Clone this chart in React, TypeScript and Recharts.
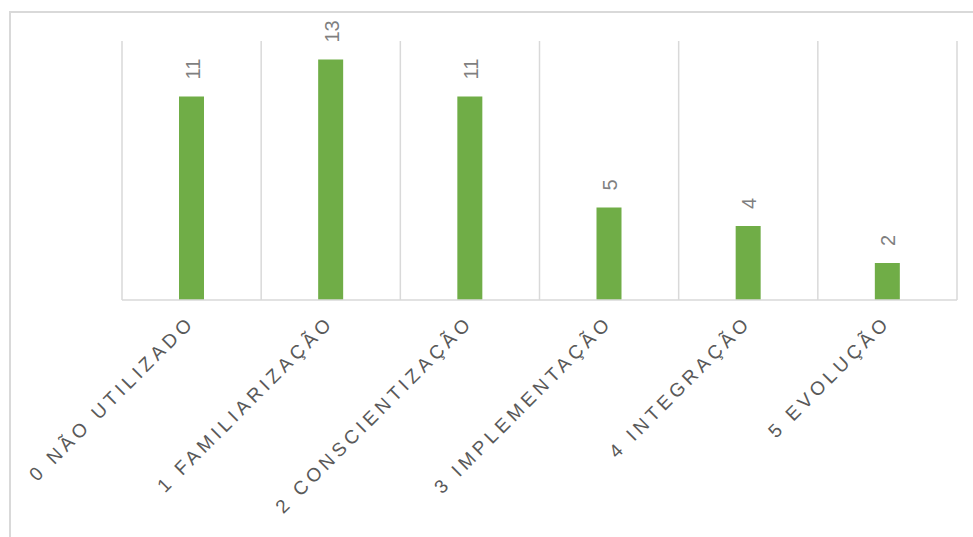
import { BarChart, Bar, XAxis, YAxis, CartesianGrid, LabelList } from "recharts";

const categories = [
  "0 NÃO UTILIZADO",
  "1 FAMILIARIZAÇÃO",
  "2 CONSCIENTIZAÇÃO",
  "3 IMPLEMENTAÇÃO",
  "4 INTEGRAÇÃO",
  "5 EVOLUÇÃO",
];

const counts = [11, 13, 11, 5, 4, 2];

const data = categories.map((nivel, i) => ({ nivel, total: counts[i] }));

const FONT = "'Liberation Sans', Arial, sans-serif";

// category labels, rotated 45deg, ending under the bar
function CategoryTick(props: any) {
  const { x, y, payload } = props;
  return (
    <g transform={`translate(${x},${y})`}>
      <text
        x={0}
        y={0}
        dx={-8}
        dy={14}
        textAnchor="end"
        transform="rotate(-45)"
        fill="#595959"
        fontSize={19}
        fontFamily={FONT}
        style={{ letterSpacing: "4.2px" }}
      >
        {payload.value}
      </text>
    </g>
  );
}

// value labels, vertical, above each bar
function ValueLabel(props: any) {
  const { x, y, width, value } = props;
  const cx = x + width / 2 + 1;
  const cy = y - 17;
  return (
    <text
      x={cx}
      y={cy}
      textAnchor="start"
      dominantBaseline="central"
      transform={`rotate(-90, ${cx}, ${cy})`}
      fill="#7f7f7f"
      fontSize={20}
      fontFamily={FONT}
    >
      {value}
    </text>
  );
}

export default function App() {
  return (
    <div
      style={{
        position: "fixed",
        left: 0,
        top: 0,
        width: 973,
        height: 537,
        overflow: "hidden",
        background: "#fff",
      }}
    >
      {/* chart border */}
      <div
        style={{
          position: "absolute",
          left: 9,
          top: 11,
          width: 990,
          height: 560,
          border: "2px solid #d9d9d9",
        }}
      />

      <div style={{ position: "absolute", left: 0, top: 0 }}>
        <BarChart
          width={973}
          height={537}
          data={data}
          margin={{ top: 41, right: 16, bottom: 207, left: 122 }}
        >
          <CartesianGrid
            horizontal={false}
            stroke="#d9d9d9"
            strokeWidth={1.5}
            verticalCoordinatesGenerator={({ offset }: any) =>
              [0, 1, 2, 3, 4, 5, 6].map(
                (i) => offset.left + (i * offset.width) / categories.length
              )
            }
          />
          <XAxis
            dataKey="nivel"
            height={30}
            interval={0}
            tickLine={false}
            axisLine={{ stroke: "#d9d9d9", strokeWidth: 1.5 }}
            tick={<CategoryTick />}
          />
          <YAxis hide domain={[0, 14]} />
          <Bar
            dataKey="total"
            fill="#70ad47"
            barSize={25}
            isAnimationActive={false}
          >
            <LabelList dataKey="total" content={<ValueLabel />} />
          </Bar>
        </BarChart>
      </div>
    </div>
  );
}
